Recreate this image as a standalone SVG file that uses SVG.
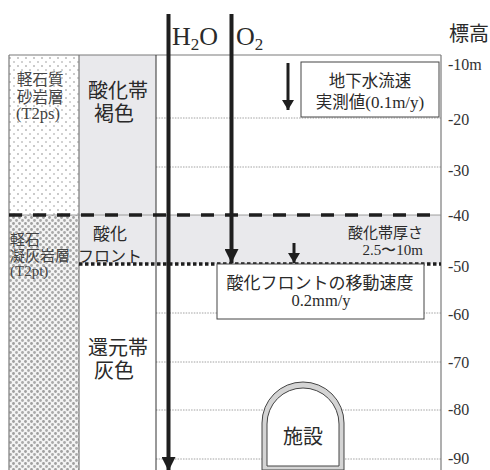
<svg xmlns="http://www.w3.org/2000/svg" width="490" height="470" viewBox="0 0 490 470">
  <defs>
    <style>
      .jp { font-family: "Noto Sans CJK JP", "Noto Sans", sans-serif; fill: #2a2a2a; }
      .sr { font-family: "Liberation Serif", "DejaVu Serif", serif; fill: #2a2a2a; }
      .soft { fill: #444444; }
      .grid { stroke: #8a8a8a; stroke-width: 0.8; stroke-dasharray: 1.5 1.2; fill: none; }
      .frame { stroke: #7a7a7a; stroke-width: 1.2; fill: none; }
      .flow { stroke: #1e1e1e; stroke-width: 4; fill: none; }
      .box { fill: #ffffff; stroke: #444444; stroke-width: 1; }
      .scale { font-family: "Liberation Serif", "DejaVu Serif", serif; font-size: 16px; fill: #333333; }
    </style>
    <!-- sandstone: sparse light dots -->
    <pattern id="dotsLight" width="8" height="8" patternUnits="userSpaceOnUse">
      <rect width="8" height="8" fill="#ffffff"/>
      <circle cx="2" cy="2" r="1" fill="#b8b8b8"/>
      <circle cx="6" cy="6" r="1" fill="#c4c4c4"/>
    </pattern>
    <!-- tuff: denser darker dots -->
    <pattern id="dotsDense" width="6" height="6" patternUnits="userSpaceOnUse">
      <rect width="6" height="6" fill="#f4f4f4"/>
      <circle cx="1.5" cy="1.5" r="1.4" fill="#a0a0a0"/>
      <circle cx="4.5" cy="4.5" r="1.4" fill="#aaaaaa"/>
    </pattern>
    <marker id="headBig" viewBox="0 0 14 14" refX="14" refY="7" markerWidth="14" markerHeight="14" markerUnits="userSpaceOnUse" orient="auto">
      <path d="M0,0 L14,7 L0,14 Z" fill="#1e1e1e"/>
    </marker>
    <marker id="headSmall" viewBox="0 0 10 12" refX="10" refY="6" markerWidth="10" markerHeight="12" markerUnits="userSpaceOnUse" orient="auto">
      <path d="M0,0 L10,6 L0,12 Z" fill="#1e1e1e"/>
    </marker>
  </defs>

  <rect width="490" height="470" fill="#ffffff"/>

  <!-- strata column -->
  <g id="strata">
    <rect x="9" y="55" width="70" height="160" fill="url(#dotsLight)"/>
    <rect x="9" y="215" width="70" height="255" fill="url(#dotsDense)"/>
    <rect x="79" y="55" width="77" height="209" fill="#e9e9ec"/>
    <rect x="156" y="215" width="285" height="49" fill="#e9e9ec"/>
  </g>

  <!-- elevation grid -->
  <g id="grid">
    <line class="grid" x1="156" y1="118" x2="441" y2="118"/>
    <line class="grid" x1="156" y1="167" x2="441" y2="167"/>
    <line class="grid" x1="156" y1="313" x2="441" y2="313"/>
    <line class="grid" x1="156" y1="362" x2="441" y2="362"/>
    <line class="grid" x1="156" y1="410" x2="441" y2="410"/>
    <line class="grid" x1="156" y1="459" x2="441" y2="459"/>
  </g>

  <!-- frame -->
  <g id="frame">
    <line class="frame" x1="9" y1="55" x2="441" y2="55"/>
    <line class="frame" x1="9" y1="55" x2="9" y2="470"/>
    <line class="frame" x1="79" y1="55" x2="79" y2="470"/>
    <line x1="156" y1="55" x2="156" y2="470" stroke="#333333" stroke-width="1"/>
    <line class="frame" x1="441" y1="55" x2="441" y2="470" stroke-width="1.6"/>
    <line x1="9" y1="215" x2="441" y2="215" stroke="#888888" stroke-width="0.8"/>
  </g>

  <!-- oxidation zone boundaries -->
  <g id="boundaries">
    <line x1="9" y1="215" x2="441" y2="215" stroke="#1e1e1e" stroke-width="3.5" stroke-dasharray="13 11"/>
    <line x1="79" y1="264" x2="441" y2="264" stroke="#1e1e1e" stroke-width="3.5" stroke-dasharray="3.5 2.5"/>
  </g>

  <!-- labels in the strata columns -->
  <g id="label-sandstone">
    <text class="jp soft" x="17" y="85" font-size="15.5">軽石質</text>
    <text class="jp soft" x="17" y="103" font-size="15.5">砂岩層</text>
    <text class="sr soft" x="16" y="119" font-size="16.5">(T2ps)</text>
  </g>
  <g id="label-tuff">
    <text class="jp soft" x="10" y="245" font-size="15">軽石</text>
    <text class="jp soft" x="10" y="261" font-size="15">凝灰岩層</text>
    <text class="sr soft" x="10" y="276" font-size="15">(T2pt)</text>
  </g>
  <g id="label-oxidized">
    <text class="jp" x="118" y="98" font-size="20" text-anchor="middle">酸化帯</text>
    <text class="jp" x="114" y="121" font-size="20" text-anchor="middle">褐色</text>
  </g>
  <g id="label-front">
    <text class="jp" x="110" y="240" font-size="17" text-anchor="middle">酸化</text>
    <text class="jp" x="110" y="262" font-size="16" text-anchor="middle">フロント</text>
  </g>
  <g id="label-reduced">
    <text class="jp" x="118" y="355" font-size="20" text-anchor="middle">還元帯</text>
    <text class="jp" x="114" y="378" font-size="20" text-anchor="middle">灰色</text>
  </g>

  <!-- facility -->
  <g id="facility">
    <path d="M262,470 L262,423 A41,41 0 0 1 344,423 L344,470 Z" fill="#d4d4d4" stroke="#444444" stroke-width="1"/>
    <path d="M267,466 L267,424 A36,36 0 0 1 339,424 L339,466 Z" fill="#ffffff" stroke="#444444" stroke-width="1"/>
    <text class="jp" x="303" y="444" font-size="20" text-anchor="middle">施設</text>
  </g>

  <!-- boxes -->
  <g id="box-groundwater">
    <rect class="box" x="301" y="62" width="138" height="55"/>
    <text class="jp" x="370" y="87" font-size="16.5" text-anchor="middle">地下水流速</text>
    <text class="jp" x="370" y="108" font-size="16.5" text-anchor="middle">実測値<tspan class="sr" font-size="17">(0.1m/y)</tspan></text>
  </g>
  <g id="box-front-speed">
    <rect class="box" x="217" y="264" width="207" height="55"/>
    <text class="jp" x="320" y="289" font-size="17" text-anchor="middle">酸化フロントの移動速度</text>
    <text class="sr" x="321" y="306" font-size="16.5" text-anchor="middle">0.2mm/y</text>
  </g>
  <g id="label-thickness">
    <text class="jp" x="423" y="238" font-size="15" text-anchor="end">酸化帯厚さ</text>
    <text class="sr" x="423" y="255" font-size="15" text-anchor="end">2.5〜10m</text>
  </g>

  <!-- flow arrows -->
  <g id="connectors">
    <line class="flow" x1="168.5" y1="14" x2="168.5" y2="471" marker-end="url(#headBig)"/>
    <line class="flow" x1="231.5" y1="14" x2="231.5" y2="263" marker-end="url(#headBig)"/>
    <line x1="288" y1="63" x2="288" y2="110" stroke="#1e1e1e" stroke-width="3" marker-end="url(#headSmall)"/>
    <line x1="294" y1="243" x2="294" y2="263" stroke="#1e1e1e" stroke-width="3" marker-end="url(#headSmall)"/>
  </g>

  <!-- species labels -->
  <g id="label-h2o">
    <text class="sr" x="172" y="45" font-size="26">H<tspan font-size="17" dy="5">2</tspan><tspan dy="-5">O</tspan></text>
  </g>
  <g id="label-o2">
    <text class="sr" x="236" y="45" font-size="26">O<tspan font-size="17" dy="5">2</tspan></text>
  </g>

  <!-- elevation scale -->
  <g id="scale">
    <text class="jp" x="449" y="41" font-size="20">標高</text>
    <text class="scale" x="448" y="70">-10m</text>
    <text class="scale" x="448" y="125">-20</text>
    <text class="scale" x="448" y="176">-30</text>
    <text class="scale" x="448" y="221">-40</text>
    <text class="scale" x="448" y="272">-50</text>
    <text class="scale" x="448" y="320">-60</text>
    <text class="scale" x="448" y="368">-70</text>
    <text class="scale" x="448" y="415">-80</text>
    <text class="scale" x="448" y="464">-90</text>
  </g>
</svg>
